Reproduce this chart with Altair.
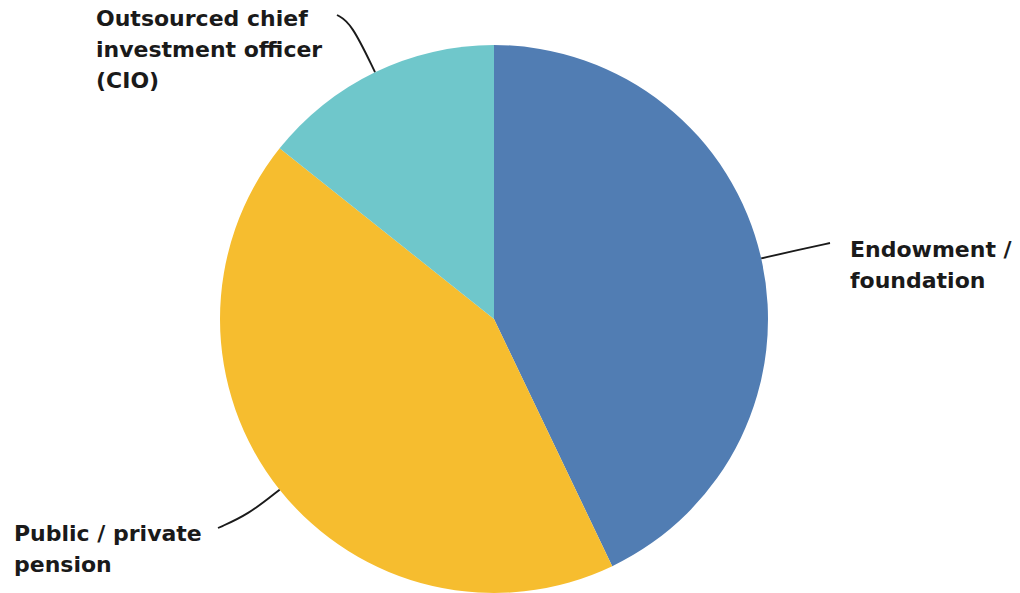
import math
import altair as alt
import pandas as pd

# ---- data ----
categories = ["Endowment / foundation", "Public / private pension",
              "Outsourced chief investment officer (CIO)"]
shares = [42.9, 42.8, 14.3]
label_lines = ["Endowment /\nfoundation", "Public / private\npension",
               "Outsourced chief\ninvestment officer\n(CIO)"]
colors = ["#517DB3", "#F6BD2F", "#6FC7CB"]

# ---- layout (pixels, chart coordinates) ----
W, H = 1004, 586
CX, CY, R = 486, 311, 274
leader_ext = [40, 40, 55]                      # radial extension of elbow
leader_end = [(822, 235), (210, 520), (329, 7)]  # end of leader line
label_pos = [(842, 249), (6, 533), (88, 18)]     # first-line baseline, left edge

# ---- derived tables ----
arc_df = pd.DataFrame({"cat": categories, "share": shares, "idx": range(len(categories))})

total = sum(shares)
line_rows, text_rows = [], []
cum = 0.0
for i, (c, s) in enumerate(zip(categories, shares)):
    mid = (cum + s / 2) / total * 2 * math.pi
    cum += s
    dx, dy = math.sin(mid), -math.cos(mid)
    sx, sy = CX + R * dx, CY + R * dy
    ex, ey = CX + (R + leader_ext[i]) * dx, CY + (R + leader_ext[i]) * dy
    for k, (px, py) in enumerate([(sx, sy), (ex, ey), leader_end[i]]):
        line_rows.append({"cat": c, "k": k, "px": px, "py": py})
    text_rows.append({"cat": c, "label": label_lines[i],
                      "px": label_pos[i][0], "py": label_pos[i][1]})
line_df = pd.DataFrame(line_rows)
text_df = pd.DataFrame(text_rows)

xs = alt.Scale(domain=[0, W], nice=False, zero=False)
ys = alt.Scale(domain=[0, H], nice=False, zero=False, reverse=True)

pie = alt.Chart(arc_df).mark_arc(outerRadius=R).encode(
    theta=alt.Theta("share:Q", stack=True),
    color=alt.Color("cat:N", scale=alt.Scale(domain=categories, range=colors), legend=None),
    order=alt.Order("idx:Q"),
    x=alt.value(CX),
    y=alt.value(CY),
)

leaders = alt.Chart(line_df).mark_line(color="#1a1a1a", strokeWidth=1.9, interpolate="basis").encode(
    x=alt.X("px:Q", scale=xs, axis=None),
    y=alt.Y("py:Q", scale=ys, axis=None),
    detail="cat:N",
    order="k:Q",
)

labels = alt.Chart(text_df).mark_text(
    align="left", baseline="alphabetic", lineBreak="\n", lineHeight=31,
    font="DejaVu Sans", fontSize=22, fontWeight="bold", color="#1a1a1a",
).encode(
    x=alt.X("px:Q", scale=xs, axis=None),
    y=alt.Y("py:Q", scale=ys, axis=None),
    text="label:N",
)

chart = alt.layer(pie, leaders, labels).properties(
    width=W, height=H, autosize=alt.AutoSizeParams(type="none"), padding=0,
).configure_view(stroke=None)

chart.save("out.html", embed_options={"renderer": "svg", "actions": False})
